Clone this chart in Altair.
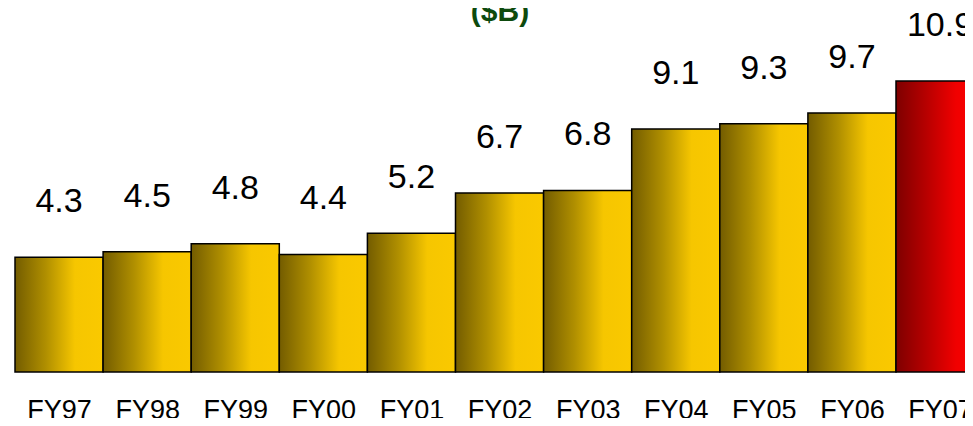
import altair as alt
import pandas as pd

years = ["FY97", "FY98", "FY99", "FY00", "FY01", "FY02", "FY03", "FY04", "FY05", "FY06", "FY07"]
values = [4.3, 4.5, 4.8, 4.4, 5.2, 6.7, 6.8, 9.1, 9.3, 9.7, 10.9]
highlight = [False] * 10 + [True]

df = pd.DataFrame({"year": years, "value": values, "hl": highlight})
df["i0"] = range(len(years))
df["i1"] = df["i0"] + 1
df["ic"] = df["i0"] + 0.5

FONT = "Liberation Sans"

gold = {"gradient": "linear", "x1": 0, "y1": 0, "x2": 1, "y2": 0,
        "stops": [{"offset": 0, "color": "#735c00"},
                  {"offset": 0.35, "color": "#b08f00"},
                  {"offset": 0.68, "color": "#f6c600"},
                  {"offset": 1, "color": "#fac900"}]}
red = {"gradient": "linear", "x1": 0, "y1": 0, "x2": 1, "y2": 0,
       "stops": [{"offset": 0, "color": "#7e0000"},
                 {"offset": 0.35, "color": "#b80000"},
                 {"offset": 0.68, "color": "#f00000"},
                 {"offset": 1, "color": "#ff0000"}]}

VIEW_W = 950
STEP = 88.1  # px per year
xscale = alt.Scale(domain=[0, VIEW_W / STEP], nice=False, zero=False)
label_expr = "[" + ",".join(f"'{y}'" for y in years) + "][round(datum.value - 0.5)]"
xaxis = alt.Axis(values=[i + 0.5 for i in range(len(years))], labelExpr=label_expr,
                 labelAngle=0, domain=False, ticks=False, tickSize=0, grid=False,
                 labelPadding=46, labelBaseline="alphabetic", labelFlush=False,
                 labelOverlap=False, labelBound=False,
                 labelFontSize=27, labelFont=FONT, labelColor="black")

yscale = alt.Scale(domain=[0, 13.63], nice=False)
y = alt.Y("value:Q", title=None, axis=None, scale=yscale)

base = alt.Chart(df)

def bars(cond, fill):
    return base.transform_filter(cond).mark_bar(
        fill=fill, stroke="black", strokeWidth=1.5, clip=False).encode(
        x=alt.X("i0:Q", scale=xscale, axis=xaxis, title=None), x2="i1:Q",
        y=y, y2=alt.datum(0))

bars_gold = bars("!datum.hl", gold)
bars_red = bars("datum.hl", red)

labels = base.mark_text(baseline="alphabetic", dy=-45, fontSize=34, font=FONT,
                        color="black").encode(
    x=alt.X("ic:Q", scale=xscale, axis=xaxis, title=None), y=y,
    text=alt.Text("value:Q", format=".1f"))

title = alt.Chart(alt.Data(values=[{"t": "($B)"}])).mark_text(
    fontSize=30, fontWeight="bold", font=FONT, color="#0d4a0d", baseline="alphabetic"
).encode(x=alt.value(485), y=alt.value(13), text="t:N")

chart = alt.layer(bars_gold, bars_red, labels, title).properties(
    width=VIEW_W, height=364,
    autosize=alt.AutoSizeParams(type="none"),
    padding={"left": 7, "top": 0, "right": 0, "bottom": 46},
).configure_view(stroke=None)

chart.save("out.html", embed_options={"renderer": "svg", "actions": False})
